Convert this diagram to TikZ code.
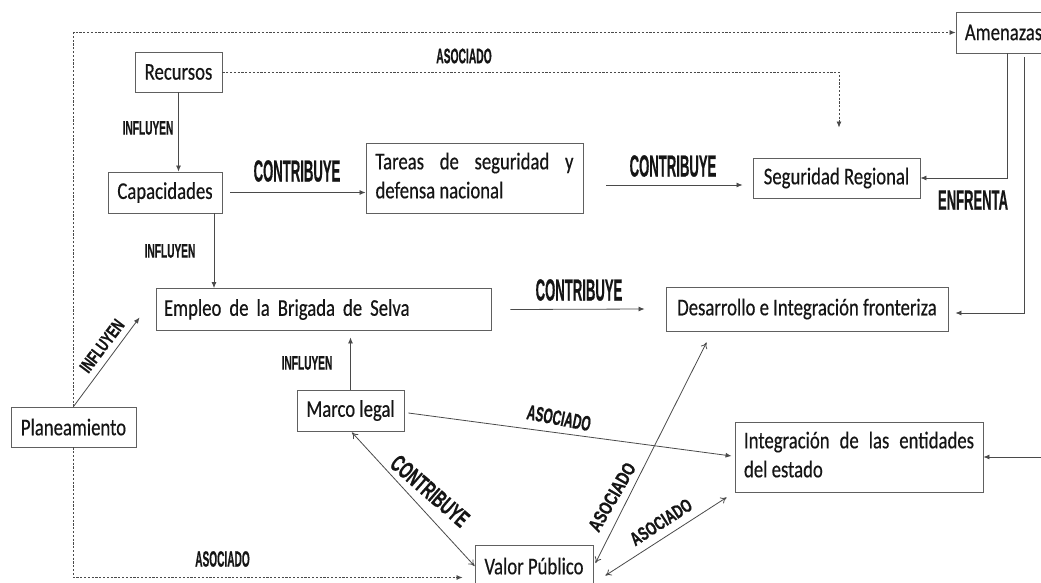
\documentclass[tikz,border=0pt]{standalone}
\usepackage{fontspec}
\setmainfont{Carlito}[FakeStretch=0.78,FakeBold=0.4]
\newfontfamily\labfont{Liberation Sans}[FakeBold=0.8]
\usetikzlibrary{arrows.meta}
\definecolor{ln}{HTML}{4A4A4A}
\definecolor{bx}{HTML}{606060}
\definecolor{tx}{HTML}{151515}
\newcommand\lb[3]{\scalebox{#2}[1]{\fontsize{#1}{#1}\selectfont #3}}
\tikzset{
  box/.style={draw=bx, line width=0.9pt, inner sep=0pt, text=tx,
    font=\fontsize{24}{29}\selectfont},
  lbl/.style={inner sep=0pt, text=tx, font=\labfont\bfseries},
  arr/.style={draw=ln, line width=0.8pt, -{Latex[length=6pt,width=5pt]}},
  darr/.style={draw=ln, line width=0.8pt, {To[length=6pt,width=7pt]}-{To[length=6pt,width=7pt]}},
  dotl/.style={draw=ln, line width=0.8pt, dash pattern=on 2.2pt off 1.6pt, -{Latex[length=6pt,width=5pt]}},
}
\begin{document}
\begin{tikzpicture}[x=1pt,y=-1pt]
\useasboundingbox[fill=white] (0,0) rectangle (1041,582);
% boxes
\node[box, minimum width=87, minimum height=40] (rec) at (178.5,72) {Recursos};
\node[box, minimum width=114, minimum height=41] (cap) at (165,192.5) {Capacidades};
\node[box, minimum width=217, minimum height=70] (tar) at (474.5,178)
  {\begin{tabular}{@{}l@{}}\hbox to 198pt{Tareas\hfill de\hfill seguridad\hfill y}\\defensa nacional\end{tabular}};
\node[box, minimum width=167, minimum height=40] (seg) at (836.5,178) {Seguridad Regional};
\node[box, minimum width=95, minimum height=41] (ame) at (1003.5,32.5) {Amenazas};
\node[box, minimum width=335, minimum height=42, text width=319, align=left] (emp) at (323.5,309.5) {Empleo de la Brigada de Selva};
\node[box, minimum width=282, minimum height=44] (des) at (807,309) {Desarrollo e Integración fronteriza};
\node[box, minimum width=125, minimum height=40] (pla) at (73.5,427) {Planeamiento};
\node[box, minimum width=107, minimum height=41] (mar) at (350.5,410.5) {Marco legal};
\node[box, minimum width=248, minimum height=70] (int) at (859,457)
  {\begin{tabular}{@{}l@{}}\hbox to 230pt{Integración\hfill de\hfill las\hfill entidades}\\del estado\end{tabular}};
\node[box, minimum width=118, minimum height=41] (val) at (534,566) {Valor Público};
\coordinate (edge) at (1046,457);
% dotted connectors
\draw[dotl] (pla.north) |- (ame.west);
\draw[dotl] (pla.south) |- ([shift={(-12,11.5)}]val.west);
\draw[dotl] (rec.east) -| ([shift={(2.5,-30)}]seg.north);
% solid connectors
\draw[arr] (rec.south) -- (rec.south |- cap.north);
\draw[arr] ([xshift=8pt]cap.east) -- (cap.east -| tar.west);
\draw[arr] ([shift={(23,7)}]tar.east) -- ([shift={(-10,7)}]seg.west);
\draw[arr] ([shift={(49,0)}]cap.south) -- ([shift={(49,0)}]cap.south |- emp.north);
\draw[arr] ([shift={(19,0)}]emp.east) -- ([shift={(-21,0)}]des.west);
\draw[arr] (pla.north) -- ([shift={(-16,-13.5)}]emp.south west);
\draw[arr] (mar.north) -- ([shift={(0,6.5)}]mar.north |- emp.south);
\draw[arr] ([shift={(4,2.5)}]mar.east) -- ([shift={(-3,-1)}]int.west);
\draw[darr] ([shift={(1.5,1)}]mar.south) -- (val.west);
\draw[darr] ([shift={(2,-3)}]val.east) -- ([shift={(41,11)}]des.south west);
\draw[darr] ([shift={(12,9.5)}]val.east) -- ([shift={(-8,5)}]int.south west);
\draw[arr] ([shift={(3.5,0)}]ame.south) |- (seg.east);
\draw[arr] ([shift={(20.5,4)}]ame.south) |- ([shift={(7,4)}]des.east);
\draw[arr] (edge) -- (int.east);
% labels
\node[lbl] (l1) at (464,56) {\lb{21}{0.49}{ASOCIADO}};
\node[lbl] (l2) at (148,128) {\lb{19.5}{0.52}{INFLUYEN}};
\node[lbl] (l3) at (297,171) {\lb{30.5}{0.43}{CONTRIBUYE}};
\node[lbl] (l4) at (673,166) {\lb{30.5}{0.43}{CONTRIBUYE}};
\node[lbl] (l5) at (973,200) {\lb{28}{0.466}{ENFRENTA}};
\node[lbl] (l6) at (170,251) {\lb{19.5}{0.52}{INFLUYEN}};
\node[lbl] (l7) at (579,290) {\lb{30.5}{0.43}{CONTRIBUYE}};
\node[lbl, rotate=53] (l8) at (102,346) {\lb{18}{0.68}{INFLUYEN}};
\node[lbl] (l9) at (307,363) {\lb{19.5}{0.52}{INFLUYEN}};
\node[lbl, rotate=-11] (l10) at (559,418) {\lb{21}{0.57}{ASOCIADO}};
\node[lbl, rotate=-41] (l11) at (430,491) {\lb{24}{0.6}{CONTRIBUYE}};
\node[lbl, rotate=60] (l12) at (612,497) {\lb{19}{0.74}{ASOCIADO}};
\node[lbl, rotate=33] (l13) at (661,522) {\lb{19}{0.68}{ASOCIADO}};
\node[lbl] (l14) at (222.5,559) {\lb{22}{0.46}{ASOCIADO}};
\end{tikzpicture}
\end{document}
